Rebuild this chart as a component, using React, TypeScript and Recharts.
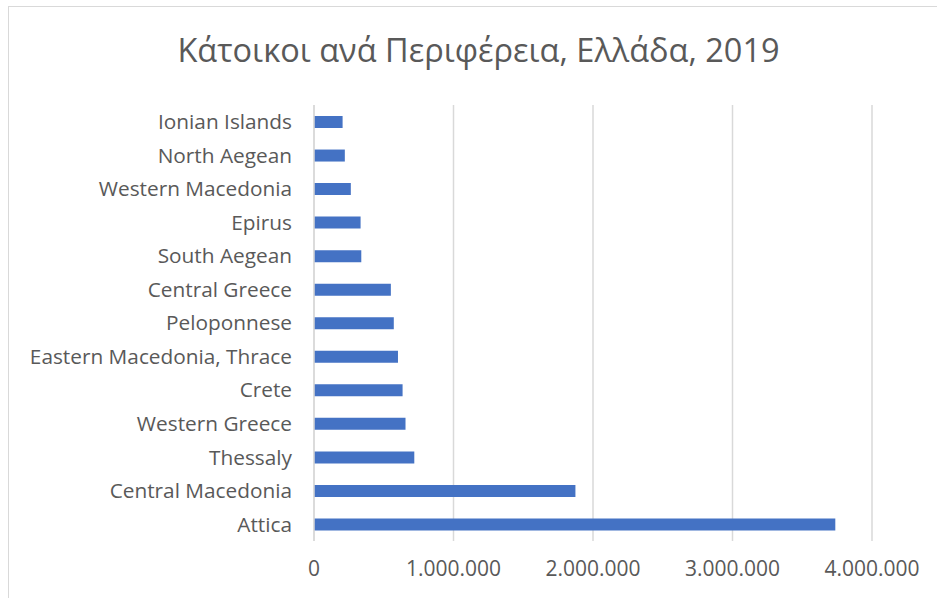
import React from "react";
import {
  BarChart,
  Bar,
  XAxis,
  YAxis,
  CartesianGrid,
} from "recharts";

const regions = [
  "Ionian Islands",
  "North Aegean",
  "Western Macedonia",
  "Epirus",
  "South Aegean",
  "Central Greece",
  "Peloponnese",
  "Eastern Macedonia, Thrace",
  "Crete",
  "Western Greece",
  "Thessaly",
  "Central Macedonia",
  "Attica",
];
const residents = [
  205000, 221000, 264000, 334000, 339000, 551000, 572000, 602000, 635000,
  656000, 719000, 1874000, 3737000,
];
const xTicks = [0, 1000000, 2000000, 3000000, 4000000];

const data = regions.map((name, i) => ({ name, value: residents[i] }));

const fontFamily = "'Open Sans', 'Noto Sans', sans-serif";
const textColor = "#595959";
const gridColor = "#d9d9d9";

const formatNumber = (v: number) =>
  v.toString().replace(/\B(?=(\d{3})+(?!\d))/g, ".");

const App = () => {
  return (
    <div
      style={{
        position: "absolute",
        left: 0,
        top: 0,
        width: 937,
        height: 598,
        overflow: "hidden",
        background: "#fff",
        fontFamily,
      }}
    >
      <div
        style={{
          position: "absolute",
          left: 8,
          top: 6,
          width: 960,
          height: 620,
          border: `1px solid ${gridColor}`,
        }}
      />
      <div
        style={{
          position: "absolute",
          left: 0,
          top: 26,
          width: 957,
          textAlign: "center",
          fontSize: 32.5,
          color: textColor,
          lineHeight: "48px",
        }}
      >
        Κάτοικοι ανά Περιφέρεια, Ελλάδα, 2019
      </div>
      <div style={{ position: "absolute", left: 0, top: 0 }}>
        <BarChart
          width={937}
          height={598}
          data={data}
          layout="vertical"
          margin={{ top: 105, right: 65, bottom: 17, left: 0 }}
          barSize={12}
        >
          <CartesianGrid horizontal={false} stroke={gridColor} strokeWidth={1.5} />
          <XAxis
            type="number"
            domain={[0, 4000000]}
            ticks={xTicks}
            tickFormatter={formatNumber}
            axisLine={false}
            tickLine={false}
            tickSize={0}
            tickMargin={20}
            height={40}
            tick={{ fill: textColor, fontSize: 21, fontFamily }}
            interval={0}
          />
          <YAxis
            type="category"
            dataKey="name"
            width={314}
            axisLine={{ stroke: gridColor, strokeWidth: 1.5 }}
            tickLine={false}
            tickSize={0}
            tickMargin={22}
            tick={{ fill: textColor, fontSize: 20.8, fontFamily }}
            interval={0}
          />
          <Bar dataKey="value" fill="#4472C4" isAnimationActive={false} />
        </BarChart>
      </div>
    </div>
  );
};

export default App;
